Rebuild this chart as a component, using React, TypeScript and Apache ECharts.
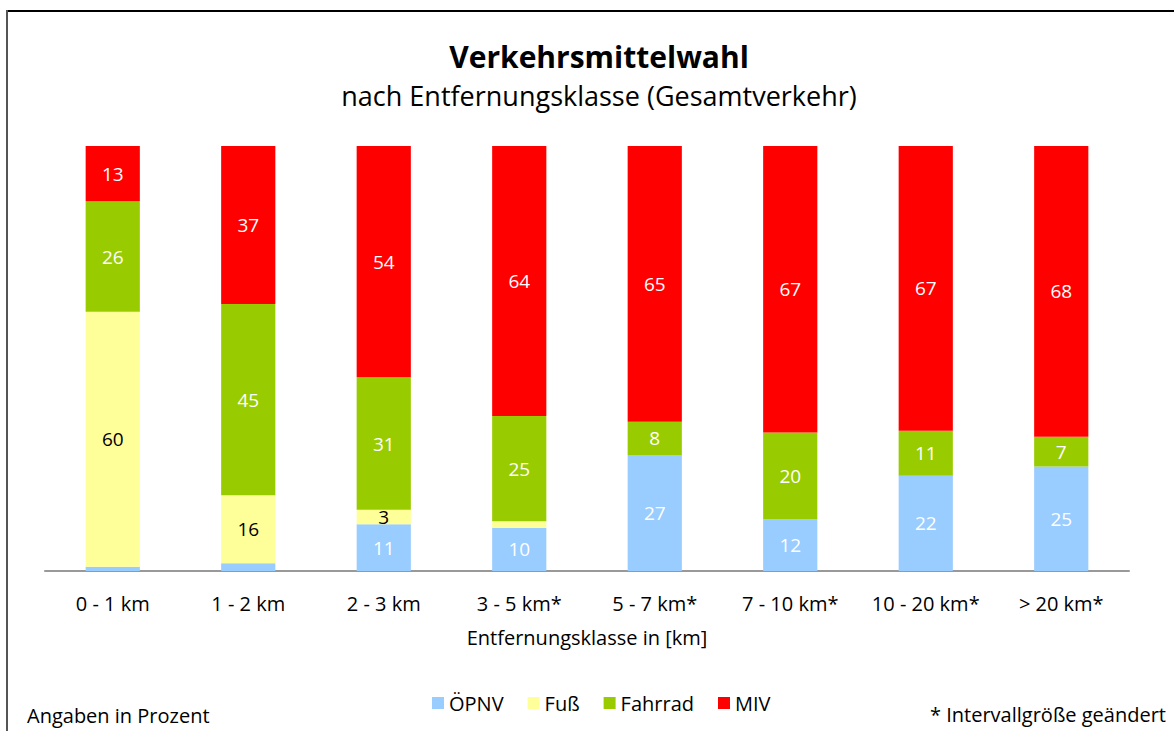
import React, { useEffect, useRef } from "react";
import * as echarts from "echarts";

const categories = ["0 - 1 km", "1 - 2 km", "2 - 3 km", "3 - 5 km*", "5 - 7 km*", "7 - 10 km*", "10 - 20 km*", "> 20 km*"];
const oepnv = [1, 1.8, 11, 10.2, 27.3, 12.2, 22.4, 24.6];
const fuss = [60, 16, 3.4, 1.5, 0, 0, 0, 0];
const fahrrad = [26, 45, 31.2, 24.8, 7.8, 20.4, 10.6, 7.0];
const miv = [13, 37.2, 54.4, 63.5, 64.9, 67.4, 67, 68.4];

const FONT = "'Open Sans', Lato, sans-serif";

export default function App() {
  const ref = useRef<HTMLDivElement>(null);
  useEffect(() => {
    if (!ref.current) return;
    const chart = echarts.init(ref.current, null, { renderer: "svg" });
    const mk = (name: string, data: number[], color: string, labelColor: string) => ({
      name,
      type: "bar",
      stack: "total",
      data,
      barWidth: "40%",
      itemStyle: { color },
      label: {
        show: true,
        position: "inside",
        color: labelColor,
        fontSize: 19,
        fontFamily: FONT,
        formatter: (p: any) => (p.value >= 3 ? String(Math.round(p.value)) : ""),
      },
    });
    chart.setOption({
      animation: false,
      textStyle: { fontFamily: FONT },
      title: {
        text: "Verkehrsmittelwahl",
        subtext: "nach Entfernungsklasse (Gesamtverkehr)",
        left: 594,
        textAlign: "center",
        top: 36,
        itemGap: 11,
        textStyle: { fontSize: 30, fontWeight: "bold", color: "#000", fontFamily: FONT },
        subtextStyle: { fontSize: 27, color: "#000", fontFamily: FONT },
      },
      grid: { left: 45, right: 45, top: 146, bottom: 160 },
      xAxis: {
        type: "category",
        data: categories,
        axisLine: { lineStyle: { color: "#999", width: 2 } },
        axisTick: { show: false },
        axisLabel: { color: "#000", fontSize: 20, margin: 22, interval: 0, fontFamily: FONT },
        name: "Entfernungsklasse in [km]",
        nameLocation: "middle",
        nameGap: 56,
        nameTextStyle: { color: "#000", fontSize: 20, fontFamily: FONT },
      },
      yAxis: { type: "value", min: 0, max: 100, show: false },
      legend: {
        data: ["ÖPNV", "Fuß", "Fahrrad", "MIV"],
        left: 427,
        top: 688,
        icon: "rect",
        itemWidth: 12,
        itemHeight: 12,
        itemGap: 24,
        textStyle: { fontSize: 20, color: "#000", fontFamily: FONT },
      },
      graphic: [
        { type: "line", shape: { x1: 7, y1: 11, x2: 1174, y2: 11 }, style: { stroke: "#000", lineWidth: 2 } },
        { type: "line", shape: { x1: 7, y1: 10, x2: 7, y2: 731 }, style: { stroke: "#555", lineWidth: 2 } },
        { type: "text", left: 27, top: 705, style: { text: "Angaben in Prozent", fontSize: 20, fill: "#000", fontFamily: FONT } },
        { type: "text", right: 8, top: 704, style: { text: "* Intervallgröße geändert", fontSize: 20, fill: "#000", fontFamily: FONT } },
      ],
      series: [
        mk("ÖPNV", oepnv, "#99CCFF", "#fff"),
        mk("Fuß", fuss, "#FFFF99", "#000"),
        mk("Fahrrad", fahrrad, "#99CC00", "#fff"),
        mk("MIV", miv, "#FF0000", "#fff"),
      ],
    });
    return () => chart.dispose();
  }, []);
  return <div ref={ref} style={{ position: "fixed", left: 0, top: 0, width: 1174, height: 731, background: "#fff" }} />;
}
